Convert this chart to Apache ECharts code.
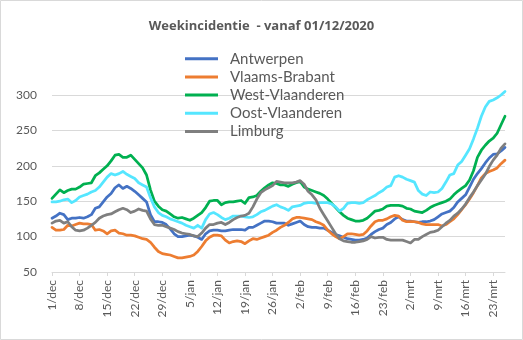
<!DOCTYPE html>
<html>
<head>
<meta charset="utf-8">
<script src="https://cdn.jsdelivr.net/npm/echarts@6/dist/echarts.min.js"></script>
<style>
html,body{margin:0;padding:0;background:#fff;}
#chart{width:523px;height:340px;}
</style>
</head>
<body>
<div id="chart"></div>
<script>
// Tick / category labels: daily dates 1/dec (2020) .. 26/mrt (2021)
const monthNames = ["dec", "jan", "feb", "mrt"];
const monthDays = [31, 31, 28, 26];
const categories = [];
monthNames.forEach(function (m, k) {
  for (let d = 1; d <= monthDays[k]; d++) categories.push(d + "/" + m);
});

const seriesNames = ["Antwerpen", "Vlaams-Brabant", "West-Vlaanderen", "Oost-Vlaanderen", "Limburg"];

const antwerpen = [126,129,133,131,124,126,126,127,126,128,131,140,142,149,156,161,169,173,168,171,
  168,164,159,154,149,131,121,121,120,117,111,104,100,100,101,102,101,99,96,104,
  108,109,109,108,108,109,110,110,110,109,113,113,116,119,122,122,121,119,119,119,
  116,118,120,122,117,114,113,113,112,112,109,106,103,101,99,97,96,95,95,96,
  98,103,107,110,112,117,120,125,128,124,122,122,121,120,121,121,122,124,128,132,
  134,136,141,149,154,159,170,181,189,196,204,211,216,217,221,226];

const vlaamsBrabant = [113,109,109,110,116,115,117,119,118,118,117,109,110,108,104,108,109,105,104,102,
  102,101,99,97,96,92,85,79,76,75,74,72,70,70,71,72,74,79,86,94,
  99,102,102,101,95,91,93,94,93,90,94,97,96,98,100,102,106,109,113,116,
  120,125,127,127,126,125,124,121,119,116,109,104,100,97,100,104,104,103,102,103,
  108,115,121,123,123,125,128,130,129,123,121,121,121,120,118,117,117,117,117,115,
  117,121,125,131,138,145,153,162,172,183,189,192,194,197,203,208];

const westVlaanderen = [154,160,166,162,165,167,167,170,174,175,176,186,190,195,200,207,215,216,212,212,
  215,209,203,197,187,166,150,143,138,136,132,128,126,127,125,123,126,130,134,141,
  150,151,151,145,148,149,149,150,151,147,155,156,158,164,169,173,176,175,173,173,
  171,174,176,178,170,167,165,163,161,158,153,147,141,135,130,126,124,122,122,123,
  126,131,136,137,139,143,144,144,144,143,140,139,136,135,134,137,141,144,146,148,
  150,153,159,164,168,172,180,193,212,222,229,235,239,246,258,270];

const oostVlaanderen = [149,149,150,152,153,148,151,156,158,160,163,165,170,177,184,189,187,189,192,188,
  185,182,176,173,170,155,142,134,130,128,125,123,121,119,116,114,112,116,112,124,
  132,134,131,127,124,126,129,129,129,128,127,128,131,135,137,140,143,145,142,140,
  137,142,143,144,147,148,148,147,148,148,148,146,142,136,140,147,148,148,147,148,
  152,155,158,162,165,170,172,184,186,184,181,179,177,165,160,158,163,162,163,168,
  177,187,189,201,206,215,224,238,253,270,283,291,293,296,300,305];

const limburg = [119,122,123,119,121,114,109,108,109,112,116,120,126,129,131,132,135,138,140,138,
  134,136,139,137,136,125,117,116,116,114,112,110,107,105,104,103,101,100,105,112,
  117,117,119,120,117,120,124,127,129,130,133,142,153,162,166,169,172,178,177,176,
  176,176,177,179,174,164,159,152,140,131,122,113,104,97,94,93,92,92,93,94,
  96,100,98,99,99,96,95,95,95,95,93,91,96,96,100,103,106,107,109,114,
  119,123,129,133,139,146,155,163,172,180,188,199,208,215,225,231];

const seriesData = [antwerpen, vlaamsBrabant, westVlaanderen, oostVlaanderen, limburg];
const seriesColors = ["#4472C4", "#ED7D31", "#00B050", "#55E6FF", "#7F7F7F"];

const yTicks = { min: 50, max: 300, interval: 50 };

const FONT = "Lato, 'Liberation Sans', sans-serif";
const chart = echarts.init(document.getElementById("chart"), null, { renderer: "canvas" });

chart.setOption({
  animation: false,
  backgroundColor: "#ffffff",
  textStyle: { fontFamily: FONT },
  title: {
    text: "Weekincidentie  - vanaf 01/12/2020",
    left: "center",
    top: 15,
    textStyle: { fontFamily: "'Open Sans', sans-serif", fontSize: 13, fontWeight: "bold", color: "#595959" }
  },
  legend: {
    orient: "vertical",
    left: 185,
    top: 51.2,
    padding: 0,
    icon: "rect",
    itemWidth: 33,
    itemHeight: 3,
    itemGap: 3.2,
    textStyle: { fontFamily: FONT, fontSize: 15, color: "#595959", lineHeight: 14, padding: [0, 0, 0, 7] },
    data: seriesNames
  },
  grid: { left: 52, right: 18, top: 95, bottom: 68, containLabel: false },
  xAxis: {
    type: "category",
    boundaryGap: false,
    data: categories,
    axisLine: { lineStyle: { color: "#D9D9D9", width: 1 } },
    axisTick: { show: true, interval: 6, length: 4, lineStyle: { color: "#D9D9D9" } },
    axisLabel: {
      interval: 6,
      rotate: 90,
      margin: 8,
      fontFamily: FONT,
      fontSize: 12,
      color: "#595959"
    },
    splitLine: { show: false }
  },
  yAxis: {
    type: "value",
    min: yTicks.min,
    max: yTicks.max,
    interval: yTicks.interval,
    axisLine: { show: false },
    axisTick: { show: false },
    axisLabel: { margin: 15, fontFamily: FONT, fontSize: 12, color: "#595959" },
    splitLine: { lineStyle: { color: "#D9D9D9", width: 1 } }
  },
  series: seriesNames.map(function (name, k) {
    return {
      name: name,
      type: "line",
      data: seriesData[k],
      symbol: "none",
      showSymbol: false,
      clip: false,
      color: seriesColors[k],
      lineStyle: { width: 2.75, color: seriesColors[k], cap: "round", join: "round" }
    };
  }),
  graphic: [{
    type: "rect",
    shape: { x: 0.5, y: 0.5, width: 522, height: 339 },
    style: { fill: "none", stroke: "#D9D9D9", lineWidth: 1 },
    silent: true
  }]
});
</script>
</body>
</html>
